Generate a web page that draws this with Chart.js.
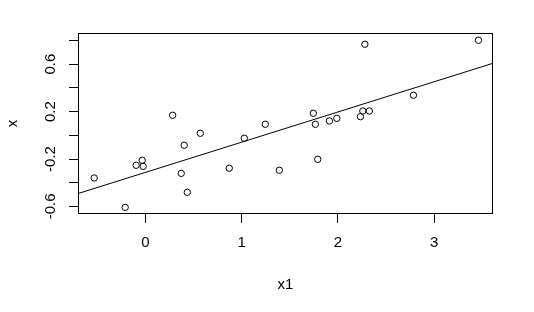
<!DOCTYPE html>
<html><head><meta charset="utf-8">
<script src="https://cdn.jsdelivr.net/npm/chart.js@4"></script>
<style>html,body{margin:0;padding:0;background:#fff}#wrap{width:534px;height:312px}</style>
</head><body><div id="wrap"><canvas id="c" width="534" height="312"></canvas></div>
<script>
// Data
const x1Values = [-0.532,-0.210,-0.096,-0.033,-0.023,0.283,0.403,0.372,0.435,0.570,0.871,1.027,1.245,1.391,1.744,1.765,1.790,1.911,1.988,2.279,2.233,2.258,2.326,2.784,3.459];
const xValues  = [-0.360,-0.608,-0.253,-0.211,-0.262,0.169,-0.084,-0.321,-0.481,0.017,-0.278,-0.025,0.093,-0.295,0.186,0.093,-0.203,0.121,0.143,0.768,0.157,0.205,0.205,0.338,0.802];
const fitIntercept = -0.313;
const fitSlope = 0.255;
const xTickValues = [0, 1, 2, 3];
const xTickLabels = ['0', '1', '2', '3'];
const yTickValues = [-0.6, -0.4, -0.2, 0, 0.2, 0.4, 0.6, 0.8];
const yTickLabels = ['-0.6', '', '-0.2', '', '0.2', '', '0.6', ''];
const xRange = [-0.70, 3.61];
const yRange = [-0.664, 0.863];

const FONT = 'Liberation Sans, Arial, sans-serif';
const points = x1Values.map((v, i) => ({x: v, y: xValues[i]}));
const fitLine = xRange.map(v => ({x: v, y: fitIntercept + fitSlope * v}));

const boxPlugin = {
  id: 'box',
  afterDraw(chart) {
    const {ctx, chartArea: a} = chart;
    ctx.save();
    ctx.strokeStyle = '#000';
    ctx.lineWidth = 1;
    ctx.strokeRect(Math.round(a.left) + 0.5, Math.round(a.top) + 0.5,
                   Math.round(a.right - a.left) - 1, Math.round(a.bottom - a.top) - 1);
    ctx.restore();
  }
};

new Chart(document.getElementById('c'), {
  type: 'scatter',
  data: {
    datasets: [
      {
        data: points,
        pointStyle: 'circle',
        pointRadius: 3.2,
        pointBorderWidth: 1,
        pointBorderColor: '#000',
        pointBackgroundColor: 'rgba(0,0,0,0)',
        showLine: false
      },
      {
        data: fitLine,
        showLine: true,
        borderColor: '#000',
        borderWidth: 1,
        pointRadius: 0,
        fill: false
      }
    ]
  },
  options: {
    responsive: false,
    animation: false,
    devicePixelRatio: 1,
    layout: {padding: {left: 0, right: 41, top: 33, bottom: 0}},
    plugins: {legend: {display: false}, tooltip: {enabled: false}},
    scales: {
      x: {
        type: 'linear', position: 'bottom',
        min: xRange[0], max: xRange[1],
        afterBuildTicks: s => { s.ticks = xTickValues.map(v => ({value: v})); },
        afterFit: s => { s.height = 98; },
        grid: {display: true, drawOnChartArea: false, drawTicks: true, tickLength: 9, tickColor: '#000', color: '#000', lineWidth: 1},
        border: {display: false},
        ticks: {color: '#000', font: {family: FONT, size: 15}, padding: 11, autoSkip: false, maxRotation: 0,
          callback: (v, i) => xTickLabels[i]},
        title: {display: true, text: 'x1', color: '#000', font: {family: FONT, size: 15}, padding: {top: 0, bottom: 18}}
      },
      y: {
        type: 'linear', position: 'left',
        min: yRange[0], max: yRange[1],
        afterBuildTicks: s => { s.ticks = yTickValues.map(v => ({value: v})); },
        afterFit: s => { s.width = 78; },
        grid: {display: true, drawOnChartArea: false, drawTicks: true, tickLength: 9, tickColor: '#000', color: '#000', lineWidth: 1},
        border: {display: false},
        ticks: {color: '#000', font: {family: FONT, size: 15}, padding: 5, autoSkip: false,
          minRotation: 90, maxRotation: 90, crossAlign: 'center',
          callback: (v, i) => yTickLabels[i]},
        title: {display: true, text: 'x', color: '#000', font: {family: FONT, size: 15}, padding: {top: 4, bottom: 0}}
      }
    }
  },
  plugins: [boxPlugin]
});
</script>
</body></html>
